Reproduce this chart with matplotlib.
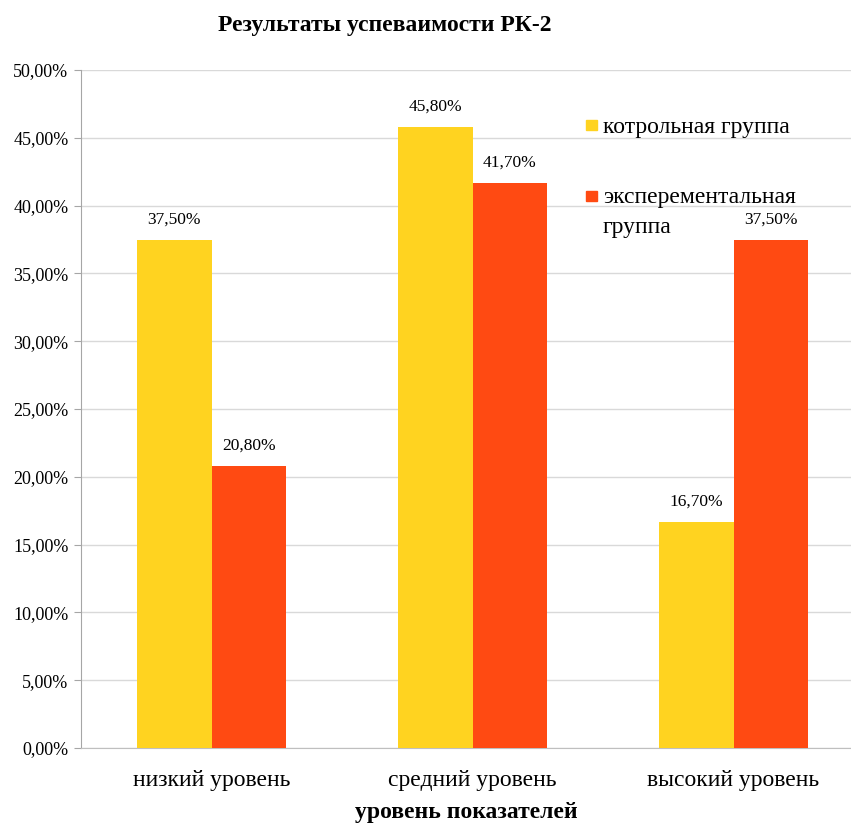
import matplotlib
matplotlib.use("Agg")
import matplotlib.pyplot as plt
import numpy as np
from matplotlib.ticker import FuncFormatter
from matplotlib.patches import Rectangle

# data
categories = ["низкий уровень", "средний уровень", "высокий уровень"]
control = [37.5, 45.8, 16.7]
experimental = [20.8, 41.7, 37.5]
series_names = [["котрольная группа"], ["эксперементальная", "группа"]]

yellow = "#FFD320"
red = "#FF4A12"
serif = "Liberation Serif"

W, H = 851, 824
fig = plt.figure(figsize=(W / 100, H / 100), dpi=100)
ax = fig.add_axes([81 / W, 1 - 748 / H, (W - 81) / W, (748 - 70) / H])

x = np.arange(len(categories))
w = 0.285
b1 = ax.bar(x - w / 2, control, w, color=yellow, zorder=3)
b2 = ax.bar(x + w / 2, experimental, w, color=red, zorder=3)

def pct(v):
    return f"{v:.2f}%".replace(".", ",")

for bars, vals in [(b1, control), (b2, experimental)]:
    for rect, v in zip(bars, vals):
        ax.text(rect.get_x() + rect.get_width() / 2, v + 0.9, pct(v),
                ha="center", va="bottom", fontsize=12.5, family=serif)

ax.set_xlim(-0.5, 2.45)
ax.set_ylim(0, 50)
ax.set_yticks(np.arange(0, 51, 5))
ax.yaxis.set_major_formatter(FuncFormatter(lambda v, p: pct(v)))
ax.set_xticks(x)
ax.set_xticklabels(categories, fontsize=17, family=serif)
for t in ax.get_yticklabels():
    t.set_fontsize(13)
    t.set_family(serif)

ax.grid(axis="y", color="#D9D9D9", linewidth=1, zorder=0)
for s in ["top", "right"]:
    ax.spines[s].set_visible(False)
ax.spines["left"].set_color("#A6A6A6")
ax.spines["bottom"].set_color("#BFBFBF")
ax.tick_params(axis="y", length=5, color="#A6A6A6", pad=4)
ax.tick_params(axis="x", length=0, pad=16)

ax.set_xlabel("уровень показателей", fontsize=17, family=serif,
              fontweight="bold", labelpad=8)
fig.text(385 / W, 1 - 25 / H, "Результаты успеваимости РК-2",
         ha="center", va="center", fontsize=17, family=serif, fontweight="bold")

# legend drawn by hand: square beside the first line of each label
for sq_y, txt_y, lines, col in zip([120, 191], [127, 198], series_names, [yellow, red]):
    fig.patches.append(Rectangle((586 / W, 1 - (sq_y + 10) / H), 11 / W, 10 / H,
                                 transform=fig.transFigure, color=col))
    for i, line in enumerate(lines):
        fig.text(603 / W, 1 - (txt_y + 29 * i) / H, line, ha="left", va="center",
                 fontsize=17, family=serif)

fig.savefig("out.png", dpi=100)
